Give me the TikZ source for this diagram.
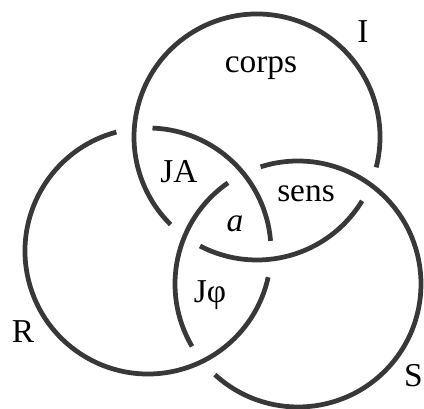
\documentclass[tikz,border=0pt]{standalone}
\usepackage{fontspec}
\setmainfont{Liberation Serif}
\usepackage{tikz}

\tikzset{
	ring/.style={line width=2.7pt, black!78},
	lbl/.style={font=\fontsize{19}{22}\selectfont, inner sep=0pt, anchor=base}
}

\begin{document}
\begin{tikzpicture}
			\useasboundingbox (0,0) rectangle (8.48,8.18);
			\def\r{2.46}
			\coordinate (cI) at (5.14,5.44);
			\coordinate (cR) at (2.96,3.16);
			\coordinate (cS) at (5.96,2.50);
			
			% Ring I (unter S)
			\draw[ring] (cI) ++(-14.3:\r) arc[start angle=-14.3, end angle=225.4, radius=\r];
			\draw[ring] (cI) ++(242.4:\r) arc[start angle=242.4, end angle=328.7, radius=\r];
			
			% Ring R (unter I)
			\draw[ring] (cR) ++(4.7:\r) arc[start angle=4.7, end angle=87.9, radius=\r];
			\draw[ring] (cR) ++(104.9:\r) arc[start angle=104.9, end angle=347.7, radius=\r];
			
			% Ring S (unter R)
			\draw[ring] (cS) ++(124.7:\r) arc[start angle=124.7, end angle=210.5, radius=\r];
			\draw[ring] (cS) ++(227.5:\r) arc[start angle=227.5, end angle=467.7, radius=\r];
			
			% Beschriftung
			\node[lbl] (corps) at (5.22,6.72) {corps};
			\node[lbl] (nI) at (7.26,7.32) {I};
			\node[lbl] (JA) at (3.58,4.52) {JA};
			\node[lbl] (sens) at (6.12,4.14) {sens};
			\node[lbl] (a) at (4.70,3.54) {\textit{a}};
			\node[lbl] (Jphi) at (4.20,2.12) {Jφ};
			\node[lbl] (nR) at (0.46,1.32) {R};
			\node[lbl, anchor=base east] (nS) at (8.46,0.44) {S};
		\end{tikzpicture}
\end{document}
